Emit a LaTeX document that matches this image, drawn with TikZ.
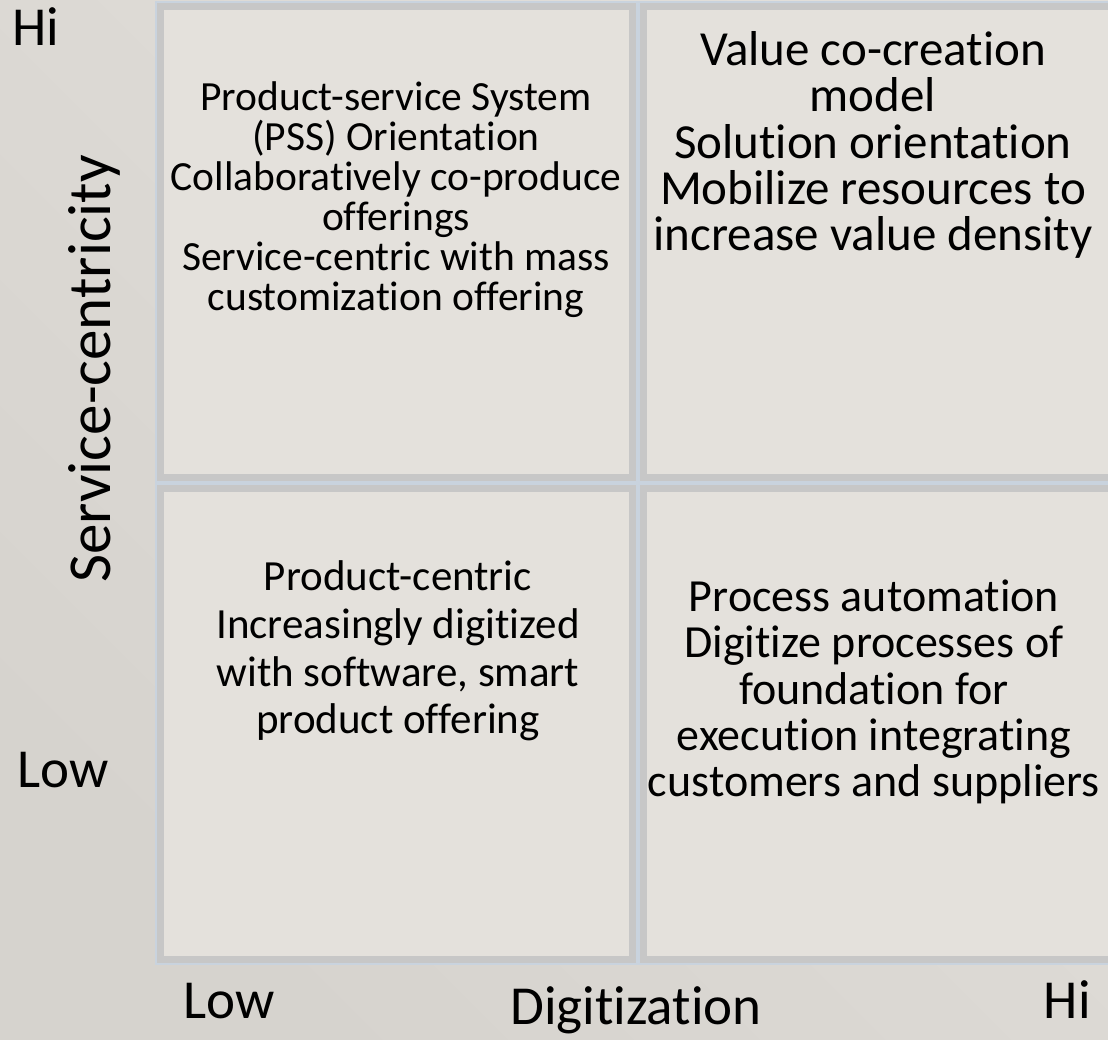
\documentclass[tikz,border=0pt]{standalone}
\usepackage{fontspec}
\setmainfont[Ligatures=NoCommon]{Carlito}
\definecolor{bgA}{HTML}{D6D3CE}
\definecolor{bgB}{HTML}{E2DFDA}
\definecolor{boxfill}{HTML}{E4E1DC}
\definecolor{bordergray}{HTML}{C7C7C7}
\definecolor{halo}{HTML}{C9D3DE}
\tikzset{
  quad/.style={draw=bordergray, line width=7pt, fill=boxfill},
  quadhalo/.style={draw=halo, line width=11pt},
  axislbl/.style={font=\fontsize{55}{60}\selectfont, text=black, inner sep=0pt},
  quadtxt/.style={align=center, text=black, inner sep=0pt},
}
\begin{document}
\begin{tikzpicture}[x=1pt,y=-1pt]
\useasboundingbox (0,0) rectangle (1108,1039);
\shade[left color=bgA, right color=bgB, shading angle=135] (0,0) rectangle (1108,1039);
% quadrant boxes
\foreach \xa/\xb/\ya/\yb in {160.5/632.5/6.5/477.5, 643.5/1115/6.5/477.5, 160.5/632.5/488.5/959.5, 643.5/1115/488.5/959.5}{
  \draw[quadhalo] (\xa,\ya) rectangle (\xb,\yb);
  \draw[quad] (\xa,\ya) rectangle (\xb,\yb);
}
\node[quadtxt, font=\fontsize{41.5}{40}\selectfont] (tl) at (396,200) {Product-service System\\(PSS) Orientation\\Collaboratively co-produce\\offerings\\Service-centric with mass\\customization offering};
\node[quadtxt, font=\fontsize{49}{46.3}\selectfont] (tr) at (873,145) {Value co-creation\\model\\Solution orientation\\Mobilize resources to\\increase value density};
\node[quadtxt, font=\fontsize{43}{47.6}\selectfont] (bl) at (398,651) {Product-centric\\Increasingly digitized\\with software, smart\\product offering};
\node[quadtxt, font=\fontsize{46}{46.3}\selectfont] (br) at (874,692) {Process automation\\Digitize processes of\\foundation for\\execution integrating\\customers and suppliers};
% axis labels
\node[axislbl, anchor=base west] (hiY) at (12,45) {Hi};
\node[axislbl, anchor=base west] (lowY) at (17,787) {Low};
\node[axislbl, anchor=base west] (lowX) at (183,1018) {Low};
\node[axislbl, anchor=base east] (hiX) at (1091,1018) {Hi};
\node[axislbl, anchor=base] (dig) at (636,1024) {Digitization};
\node[axislbl, font=\fontsize{61}{66}\selectfont, anchor=base, rotate=90] (svc) at (110,369) {Service-centricity};
\end{tikzpicture}
\end{document}
